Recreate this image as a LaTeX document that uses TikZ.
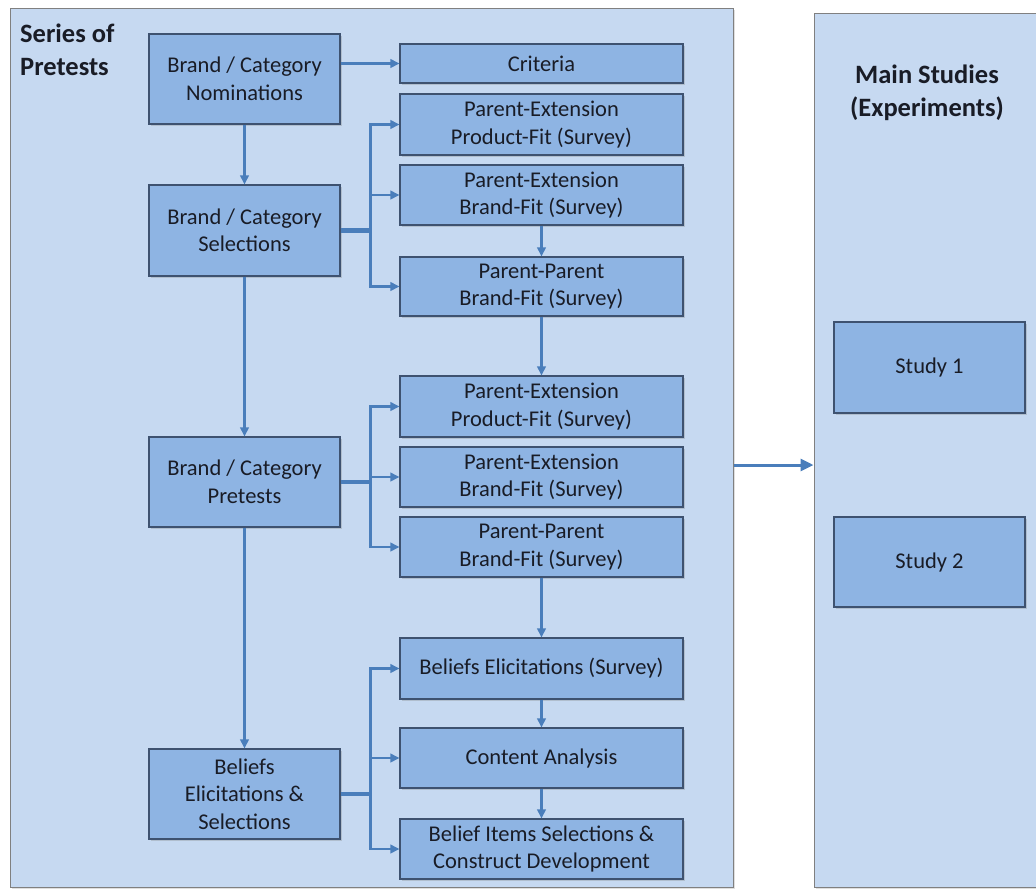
\documentclass[tikz,border=0pt]{standalone}
\usepackage{fontspec}
\setmainfont{Carlito}
\usetikzlibrary{arrows.meta,shadows,calc}
\definecolor{panelfill}{RGB}{198,217,241}
\definecolor{panelline}{RGB}{128,128,128}
\definecolor{boxfill}{RGB}{142,180,227}
\definecolor{boxline}{RGB}{62,82,112}
\definecolor{arrcol}{RGB}{74,126,187}
\definecolor{txt}{RGB}{25,28,38}
\tikzset{
  panel/.style={draw=panelline, line width=1pt, fill=panelfill, inner sep=0pt,
    drop shadow={shadow xshift=2pt, shadow yshift=-2pt, opacity=0.25}},
  box/.style={draw=boxline, line width=1.1pt, fill=boxfill, inner sep=0pt,
    text=txt, align=center, font=\fontsize{22.5}{27.5}\selectfont,
    drop shadow={shadow xshift=2pt, shadow yshift=-2pt, opacity=0.3}},
  lbox/.style={box, minimum width=191pt},
  rbox/.style={box, minimum width=283pt},
  arr/.style={draw=arrcol, line width=2.2pt, -{Triangle[length=9pt,width=8.5pt]}},
  stub/.style={draw=arrcol, line width=4.5pt},
  bigarr/.style={draw=arrcol, line width=3pt, -{Triangle[length=13pt,width=12pt]}},
  title/.style={font=\fontsize{26.5}{33}\selectfont\bfseries, text=txt, inner sep=0pt}
}
\begin{document}
\begin{tikzpicture}[x=1pt,y=-1pt]
\useasboundingbox (0,0) rectangle (1036,892);
\fill[white] (0,0) rectangle (1036,892);
% panels
\node[panel, minimum width=723pt, minimum height=879pt] (lp) at (371.5,447.5) {};
\node[panel, minimum width=240pt, minimum height=874pt] (rp) at (934,450) {};
\node[title, anchor=north west, align=left] (t1) at (20,24) {Series of\\Pretests};
\node[title, anchor=north, align=center] (t2) at (927,65) {Main Studies\\(Experiments)};
% left column
\node[lbox, minimum height=90pt] (nom) at (244.5,79) {Brand / Category\\Nominations};
\node[lbox, minimum height=91pt] (sel) at (244.5,230.5) {Brand / Category\\Selections};
\node[lbox, minimum height=90pt] (pre) at (244.5,482) {Brand / Category\\Pretests};
\node[lbox, minimum height=90pt] (bel) at (244.5,794) {Beliefs\\Elicitations \&\\Selections};
% right column
\node[rbox, minimum height=39pt] (crit) at (541.5,63.5) {Criteria};
\node[rbox, minimum height=61pt] (pf1) at (541.5,124.5) {Parent-Extension\\Product-Fit (Survey)};
\node[rbox, minimum height=60pt] (bf1) at (541.5,195) {Parent-Extension\\Brand-Fit (Survey)};
\node[rbox, minimum height=59pt] (pp1) at (541.5,286.5) {Parent-Parent\\Brand-Fit (Survey)};
\node[rbox, minimum height=61pt] (pf2) at (541.5,406.5) {Parent-Extension\\Product-Fit (Survey)};
\node[rbox, minimum height=60pt] (bf2) at (541.5,477) {Parent-Extension\\Brand-Fit (Survey)};
\node[rbox, minimum height=60pt] (pp2) at (541.5,547) {Parent-Parent\\Brand-Fit (Survey)};
\node[rbox, minimum height=61pt] (be) at (541.5,668.5) {Beliefs Elicitations (Survey)};
\node[rbox, minimum height=60pt] (ca) at (541.5,758) {Content Analysis};
\node[rbox, minimum height=60pt] (bi) at (541.5,849) {Belief Items Selections \&\\Construct Development};
% studies
\node[lbox, minimum height=91pt] (s1) at (929.5,367.5) {Study 1};
\node[lbox, minimum height=90pt] (s2) at (929.5,562) {Study 2};
% left vertical arrows
\draw[arr] (nom) -- (sel);
\draw[arr] (sel) -- (pre);
\draw[arr] (pre) -- (bel);
\draw[arr] (nom.east |- crit.west) -- (crit.west);
% branch 1
\coordinate (j1) at ($(sel.east)+(30,0)$);
\draw[stub] (sel.east) -- (j1);
\draw[arr] (j1) |- (pf1.west);
\draw[arr] (j1) |- (bf1.west);
\draw[arr] (j1) |- (pp1.west);
% branch 2
\coordinate (j2) at ($(pre.east)+(30,0)$);
\draw[stub] (pre.east) -- (j2);
\draw[arr] (j2) |- (pf2.west);
\draw[arr] (j2) |- (bf2.west);
\draw[arr] (j2) |- (pp2.west);
% branch 3
\coordinate (j3) at ($(bel.east)+(30,0)$);
\draw[stub] (bel.east) -- (j3);
\draw[arr] (j3) |- (be.west);
\draw[arr] (j3) |- (ca.west);
\draw[arr] (j3) |- (bi.west);
% right vertical arrows
\draw[arr] (bf1) -- (pp1);
\draw[arr] (pp1) -- (pf2);
\draw[arr] (pp2) -- (be);
\draw[arr] (be) -- (ca);
\draw[arr] (ca) -- (bi);
% main arrow
\coordinate (ma) at (lp.east |- 0,465);
\draw[bigarr] (ma) -- (ma -| rp.west);
\end{tikzpicture}
\end{document}
